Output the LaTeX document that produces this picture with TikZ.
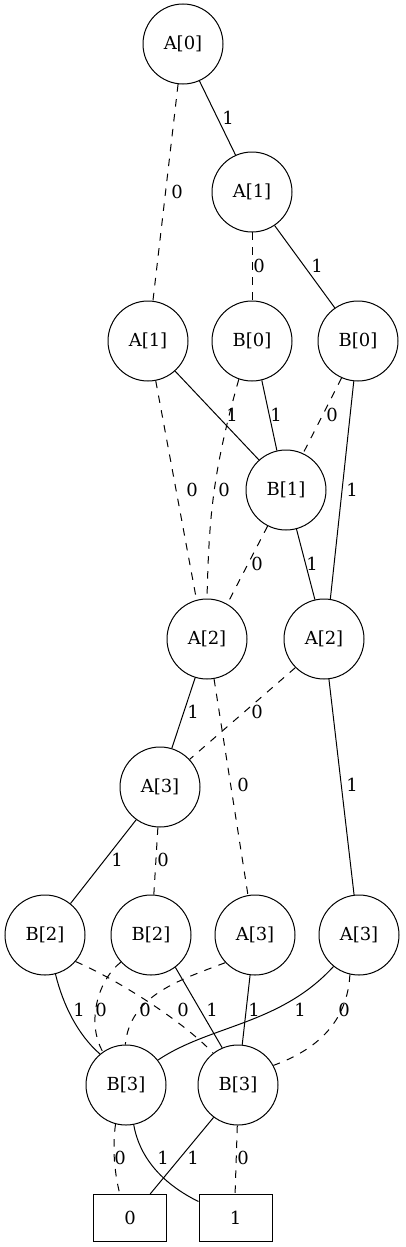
\documentclass[tikz,border=0pt]{standalone}
\usepackage{fontspec}
\setmainfont{DejaVu Serif}
\begin{document}
\begin{tikzpicture}[x=1pt,y=-1pt,
  every node/.style={font=\fontsize{18}{21}\selectfont},
  var/.style={draw,circle,minimum size=80pt,inner sep=0pt,line width=1pt},
  term/.style={draw,rectangle,minimum width=73pt,minimum height=47pt,inner sep=0pt,line width=1pt},
  one/.style={line width=1pt},
  zero/.style={line width=1pt,dash pattern=on 7.5pt off 7.5pt},
  lab/.style={inner sep=0pt,anchor=center}]
\useasboundingbox (0,0) rectangle (405,1247);
% nodes
\node[var] (A0)  at (183,44)  {A[0]};
\node[var] (A1a) at (252,192) {A[1]};
\node[var] (A1b) at (148,341) {A[1]};
\node[var] (B0a) at (252,341) {B[0]};
\node[var] (B0b) at (358,341) {B[0]};
\node[var] (B1)  at (286,490) {B[1]};
\node[var] (A2a) at (207,639) {A[2]};
\node[var] (A2b) at (324,639) {A[2]};
\node[var] (A3a) at (160,787) {A[3]};
\node[var] (B2a) at (45,935)  {B[2]};
\node[var] (B2b) at (151,935) {B[2]};
\node[var] (A3b) at (255,935) {A[3]};
\node[var] (A3c) at (359,935) {A[3]};
\node[var] (B3a) at (126,1085) {B[3]};
\node[var] (B3b) at (238,1085) {B[3]};
\node[term] (T0) at (130,1218) {0};
\node[term] (T1) at (235.5,1218) {1};
% edges
\draw[one]  (A0.-66) -- (A1a.114);
\node[lab] (l1) at (228,118) {1};
\draw[zero] (A0.-97) -- (A1b.83);
\node[lab] (l2) at (177,192) {0};
\draw[zero] (A1a.-89) -- (B0a.89);
\node[lab] (l3) at (259,266) {0};
\draw[one]  (A1a.-56) -- (B0b.125);
\node[lab] (l4) at (317,266) {1};
\draw[one]  (A1b.-48) -- (B1.132);
\node[lab] (l5) at (232,415) {1};
\draw[zero] (A1b.-79) -- (A2a.105);
\node[lab] (l6) at (192,490) {0};
\draw[zero] (B0a.-109) .. controls (212,474) and (209,520) .. (A2a.90);
\node[lab] (l7) at (224,490) {0};
\draw[one]  (B0a.-76) -- (B1.103);
\node[lab] (l8) at (276,415) {1};
\draw[zero] (B0b.-114) -- (B1.65);
\node[lab] (l9) at (332,415) {0};
\draw[one]  (B0b.-96) -- (A2b.81);
\node[lab] (l10) at (352,490) {1};
\draw[zero] (B1.-117) -- (A2a.60);
\node[lab] (l11) at (257,564) {0};
\draw[one]  (B1.-75) -- (A2b.103);
\node[lab] (l12) at (312,564) {1};
\draw[one]  (A2a.-107) -- (A3a.73);
\node[lab] (l13) at (193,712) {1};
\draw[zero] (A2a.-80) -- (A3b.100);
\node[lab] (l14) at (243,785) {0};
\draw[zero] (A2b.-135) -- (A3a.43);
\node[lab] (l15) at (257,712) {0};
\draw[one]  (A2b.-83) -- (A3c.97);
\node[lab] (l16) at (352,785) {1};
\draw[one]  (A3a.-126) -- (B2a.51);
\node[lab] (l17) at (117,860) {1};
\draw[zero] (A3a.-93) -- (B2b.86);
\node[lab] (l18) at (163,860) {0};
\draw[one]  (B2a.-75) .. controls (63,1005) and (78,1035) .. (B3a.130);
\node[lab] (l19) at (79,1010) {1};
\draw[zero] (B2a.-41) .. controls (110,976) and (180,1018) .. (B3b.128);
\node[lab] (l20) at (183,1010) {0};
\draw[zero] (B2b.-138) .. controls (98,980) and (86,1022) .. (B3a.125);
\node[lab] (l21) at (101,1010) {0};
\draw[one]  (B2b.-53) -- (B3b.113);
\node[lab] (l22) at (212,1010) {1};
\draw[zero] (A3b.-137) .. controls (180,980) and (130,995) .. (B3a.91);
\node[lab] (l23) at (145,1010) {0};
\draw[one]  (A3b.-97) -- (B3b.84);
\node[lab] (l24) at (254,1010) {1};
\draw[one]  (A3c.-129) .. controls (280,1025) and (210,1025) .. (B3a.38);
\node[lab] (l25) at (300,1010) {1};
\draw[zero] (A3c.-103) .. controls (348,1010) and (330,1045) .. (B3b.29);
\node[lab] (l26) at (344,1010) {0};
\draw[zero] (B3a.-105) .. controls (112,1150) and (115,1175) .. (T0.113);
\node[lab] (l27) at (120,1158) {0};
\draw[one]  (B3a.-79) .. controls (140,1160) and (165,1185) .. (T1.156);
\node[lab] (l28) at (163,1158) {1};
\draw[one]  (B3b.-127) -- (T0.50);
\node[lab] (l29) at (193,1158) {1};
\draw[zero] (B3b.-91) -- (T1.91);
\node[lab] (l30) at (243,1158) {0};
\end{tikzpicture}
\end{document}
